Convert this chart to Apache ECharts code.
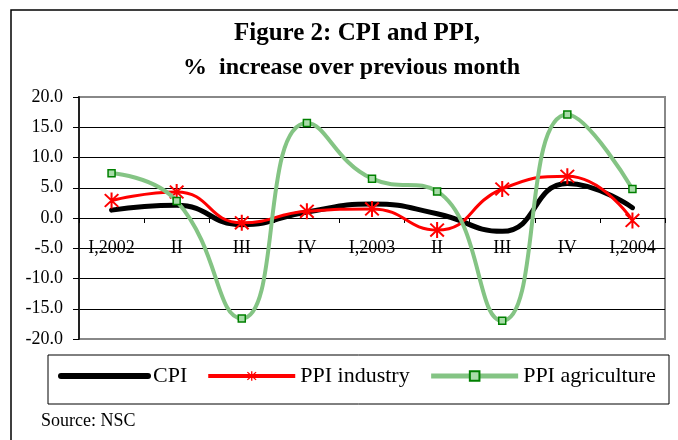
<!DOCTYPE html>
<html>
<head>
<meta charset="utf-8">
<script src="https://cdn.jsdelivr.net/npm/echarts@6/dist/echarts.min.js"></script>
<style>
  html, body { margin: 0; padding: 0; background: #fff; }
  #chart { width: 678px; height: 440px; }
</style>
</head>
<body>
<div id="chart"></div>
<script>
// quarters
var categories = ["I,2002", "II", "III", "IV", "I,2003", "II", "III", "IV", "I,2004"];
var cpi = [1.3, 2.1, -1.1, 1.0, 2.3, 0.7, -2.2, 5.7, 1.7];
var ppiIndustry = [2.9, 4.3, -0.8, 1.1, 1.5, -2.0, 4.8, 6.9, -0.4];
var ppiAgriculture = [7.4, 2.8, -16.6, 15.7, 6.5, 4.4, -17.0, 17.1, 4.8];

var serif = "'Liberation Serif', 'DejaVu Serif', serif";
// asterisk marker (vertical + two diagonals)
var starPath = "path://M44 0L56 0L56 100L44 100Z" +
    "M14.2 5.8L94.2 85.8L85.8 94.2L5.8 14.2Z" +
    "M85.8 5.8L94.2 14.2L14.2 94.2L5.8 85.8Z";

var option = {
    animation: false,
    backgroundColor: "#fff",
    grid: {
        left: 79,
        right: 13,
        top: 97,
        bottom: 101,
        show: true,
        borderColor: "#888",
        borderWidth: 2,
        backgroundColor: "transparent"
    },
    graphic: [
        {
            type: "rect",
            shape: { x: 11, y: 10, width: 700, height: 500 },
            style: { fill: "none", stroke: "#000", lineWidth: 1.5 },
            silent: true
        },
        {
            type: "rect",
            shape: { x: 48, y: 355, width: 621, height: 49 },
            style: { fill: "#fff", stroke: "#000", lineWidth: 1 },
            silent: true,
            z: -1
        },
        {
            type: "text",
            left: 234, top: 21,
            style: { text: "Figure 2: CPI and PPI,", font: "bold 25px " + serif, fill: "#000" }
        },
        {
            type: "text",
            left: 183, top: 56,
            style: { text: "%  increase over previous month", font: "bold 24px " + serif, fill: "#000" }
        },
        {
            type: "text",
            left: 41, top: 412,
            style: { text: "Source: NSC", font: "18px " + serif, fill: "#000" }
        }
    ],
    legend: {
        left: 58,
        top: 365,
        padding: 0,
        itemWidth: 87,
        itemHeight: 12,
        itemGap: 19,
        textStyle: { fontFamily: serif, fontSize: 22, color: "#000" },
        data: [
            { name: "CPI", itemStyle: { opacity: 0 }, lineStyle: { width: 6, cap: "round" } },
            { name: "PPI industry", lineStyle: { width: 4 } },
            { name: "PPI agriculture", lineStyle: { width: 5 } }
        ]
    },
    xAxis: {
        type: "category",
        data: categories,
        boundaryGap: true,
        offset: -121,
        axisLine: { onZero: false, lineStyle: { color: "#000", width: 1 } },
        axisTick: { show: true, inside: false, length: 5, lineStyle: { color: "#000" } },
        axisLabel: { fontFamily: serif, fontSize: 18, color: "#000", margin: 21, interval: 0 },
        splitLine: { show: false }
    },
    yAxis: {
        type: "value",
        min: -20,
        max: 20,
        interval: 5,
        axisLine: { show: true, lineStyle: { color: "#222", width: 2 } },
        axisTick: { show: true, inside: false, length: 6, lineStyle: { color: "#000" } },
        axisLabel: {
            fontFamily: serif, fontSize: 18, color: "#000", margin: 16,
            formatter: function (v) { return v.toFixed(1); }
        },
        splitLine: {
            show: true,
            showMinLine: false,
            showMaxLine: false,
            lineStyle: { color: "#000", width: 1 }
        }
    },
    series: [
        {
            name: "CPI",
            type: "line",
            data: cpi,
            smooth: 0.5,
            symbol: "none",
            lineStyle: { color: "#000", width: 5, cap: "round" },
            itemStyle: { color: "#000" },
            z: 3
        },
        {
            name: "PPI industry",
            type: "line",
            data: ppiIndustry,
            smooth: 0.5,
            symbol: starPath,
            symbolSize: [15, 16],
            showSymbol: true,
            lineStyle: { color: "#ff0000", width: 3 },
            itemStyle: { color: "#ff0000" },
            z: 4
        },
        {
            name: "PPI agriculture",
            type: "line",
            data: ppiAgriculture,
            smooth: 0.5,
            symbol: "rect",
            symbolSize: 7,
            showSymbol: true,
            lineStyle: { color: "#84c484", width: 4 },
            itemStyle: { color: "#a8dca8", borderColor: "#008000", borderWidth: 1.5 },
            z: 5
        }
    ]
};

var myChart = echarts.init(document.getElementById("chart"));
myChart.setOption(option);
</script>
</body>
</html>
